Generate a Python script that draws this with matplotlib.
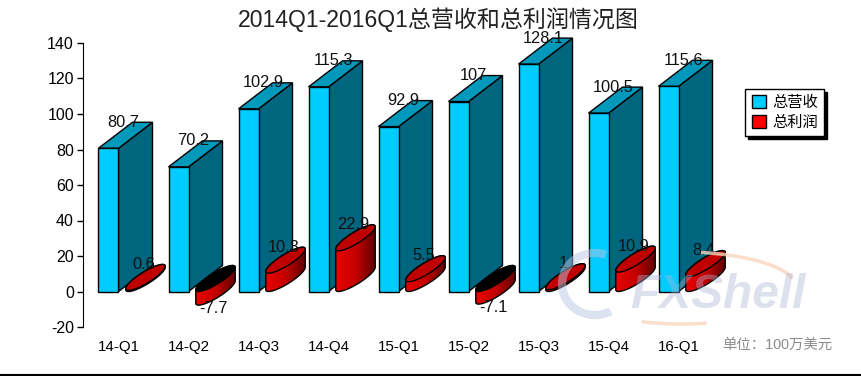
import matplotlib
matplotlib.use("Agg")
import matplotlib.pyplot as plt
import numpy as np
from matplotlib.colors import LinearSegmentedColormap
from matplotlib.patches import Arc, Patch, Polygon

plt.rcParams['font.family'] = ['Liberation Sans', 'Noto Sans CJK SC']
plt.rcParams['axes.unicode_minus'] = False

categories = ['14-Q1', '14-Q2', '14-Q3', '14-Q4', '15-Q1', '15-Q2', '15-Q3', '15-Q4', '16-Q1']
revenue = [80.7, 70.2, 102.9, 115.3, 92.9, 107, 128.1, 100.5, 115.6]
profit = [0.6, -7.7, 10.3, 22.9, 5.5, -7.1, 1, 10.9, 8.4]
revenue_labels = ['80.7', '70.2', '102.9', '115.3', '92.9', '107', '128.1', '100.5', '115.6']
profit_labels = ['0.6', '-7.7', '10.3', '22.9', '5.5', '-7.1', '1', '10.9', '8.4']
yticks = [-20, 0, 20, 40, 60, 80, 100, 120, 140]

W, H = 862, 376
# data units per pixel
PX = 1 / 70
PY = 160 / 284
BAR_W = 20 * PX
DX = 34 * PX
DY = 26 * PY

fig = plt.figure(figsize=(W / 100, H / 100), dpi=100)
ax = fig.add_axes([83 / W, 1 - 327 / H, 652 / W, 284 / H])
red_map = LinearSegmentedColormap.from_list('red3d', ['#e80000', '#c40000', '#5c0000'])


def draw_box(x, v):
    front = [(x, 0), (x + BAR_W, 0), (x + BAR_W, v), (x, v)]
    top = [(x, v), (x + BAR_W, v), (x + BAR_W + DX, v + DY), (x + DX, v + DY)]
    side = [(x + BAR_W, 0), (x + BAR_W + DX, DY), (x + BAR_W + DX, v + DY), (x + BAR_W, v)]
    for pts, col in [(side, '#006680'), (top, '#0099bb'), (front, '#00ccff')]:
        ax.add_patch(Polygon(pts, closed=True, fc=col, ec='black', lw=1, zorder=2, clip_on=False))


def skew_pts(x, y, t):
    cx = x + BAR_W / 2 + DX / 2
    cy = y + DY / 2
    return np.c_[cx + BAR_W / 2 * np.cos(t) + DX / 2 * np.sin(t), cy + DY / 2 * np.sin(t)]


def draw_cylinder(x, v):
    low, high = min(v, 0), max(v, 0)
    # angle of the right hand tangent, in pixel space the skew is fixed
    tr = np.arctan2(17, 10)
    lower = skew_pts(x, low, np.linspace(tr + np.pi, tr + 2 * np.pi, 60))
    upper = skew_pts(x, high, np.linspace(tr, tr + np.pi, 60))
    body = Polygon(np.r_[lower, upper], closed=True, fc='none', ec='black', lw=1, zorder=3, clip_on=False)
    ax.add_patch(body)
    x0, x1 = np.r_[lower, upper][:, 0].min(), np.r_[lower, upper][:, 0].max()
    y0, y1 = np.r_[lower, upper][:, 1].min(), np.r_[lower, upper][:, 1].max()
    im = ax.imshow(np.linspace(0, 1, 64).reshape(1, -1), cmap=red_map, extent=[x0, x1, y0, y1],
                   aspect='auto', zorder=2.9, interpolation='bilinear')
    im.set_clip_path(body)
    ell = skew_pts(x, high, np.linspace(0, 2 * np.pi, 120))
    col = 'black' if v < 0 else '#c00000'
    ax.add_patch(Polygon(ell, closed=True, fc=col, ec='black', lw=1, zorder=3.1, clip_on=False))


for i in range(len(categories)):
    draw_box(i - BAR_W, revenue[i])
    draw_cylinder(i, profit[i])
    ax.text(i - BAR_W + 25 * PX, revenue[i] + DY, revenue_labels[i], ha='center', va='center',
            fontsize=11.8, color='#111111', zorder=5)
    # negative labels sit just under the cylinder
    yl = profit[i] - 3 * PY if profit[i] < 0 else profit[i] + DY
    ax.text(i + 25 * PX, yl, profit_labels[i], ha='center', va='center',
            fontsize=11.8, color='#111111', zorder=5)

ax.set_xlim(-35.5 * PX, -35.5 * PX + 652 * PX)
ax.set_ylim(-20, 140)
ax.set_yticks(yticks)
ax.set_xticks(range(len(categories)))
ax.set_xticklabels(categories)
ax.tick_params(axis='x', length=0, pad=9, labelsize=10.9)
ax.tick_params(axis='y', length=4, width=1, pad=2.5, labelsize=11.5)
for s in ['top', 'right', 'bottom']:
    ax.spines[s].set_visible(False)
ax.patch.set_alpha(0)

fig.text(438.5 / W, 1 - 20 / H, '2014Q1-2016Q1总营收和总利润情况图', ha='center', va='center',
         fontsize=16.6, color='#222222')
fig.text(777 / W, 1 - 345 / H, '单位：100万美元', ha='center', va='center', fontsize=10.4, color='#8c8c8c')

handles = [Patch(fc='#00ccff', ec='black', lw=1), Patch(fc='#ff0000', ec='black', lw=1)]
fig.legend(handles, ['总营收', '总利润'], loc='upper left', bbox_to_anchor=(745.5 / W, 1 - 89 / H),
           borderaxespad=0, fancybox=False, framealpha=1, edgecolor='black', fontsize=11,
           shadow={'color': 'black', 'alpha': 1, 'ox': 2, 'oy': -2}, handlelength=0.95, handleheight=0.95,
           handletextpad=0.4, labelspacing=0.35, borderpad=0.4)

# watermark and bottom rule live on a pixel sized overlay (y runs downward here)
top = fig.add_axes([0, 0, 1, 1])
top.set_xlim(0, W)
top.set_ylim(H, 0)
top.axis('off')
top.plot([0, W], [375, 375], color='black', lw=1.5)
top.add_patch(Arc((682, 288), 230, 72, theta1=-62, theta2=-5, color='#f9d5bd', lw=2.5, alpha=0.8))
top.add_patch(Arc((682, 288), 230, 72, theta1=55, theta2=140, color='#f9d5bd', lw=2.5, alpha=0.8))
top.add_patch(Arc((595, 284), 66, 62, theta1=60, theta2=290, color='#b9c6e3', lw=6, alpha=0.5))
top.text(630, 296, 'FXShell', fontsize=34.5, fontweight='bold', fontstyle='italic', family='Liberation Sans',
         color='#aab4d6', alpha=0.4, ha='left', va='center')

fig.savefig('out.png', dpi=100)
